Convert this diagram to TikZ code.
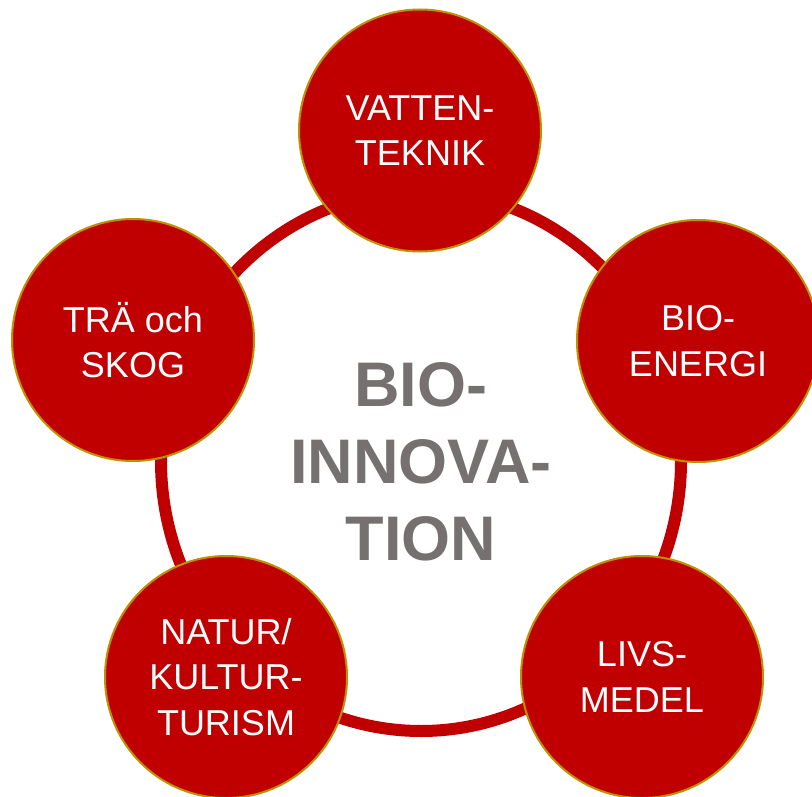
\documentclass[tikz,border=0pt]{standalone}
\usepackage{fontspec}
\setmainfont{Liberation Sans}
\definecolor{ringred}{HTML}{C00000}
\definecolor{goldline}{HTML}{BF9000}
\definecolor{txtgray}{HTML}{767171}
\begin{document}
\begin{tikzpicture}[x=1pt,y=-1pt]
\tikzset{
  topic/.style={circle, fill=ringred, draw=goldline, line width=2pt,
    minimum size=242pt, inner sep=0pt, text=white, align=center,
    font=\fontsize{36}{45.5}\selectfont},
  ringline/.style={draw=ringred, line width=12pt},
  centertext/.style={text=txtgray, align=center,
    font=\bfseries\fontsize{63}{77}\selectfont}
}
\useasboundingbox (0,0) rectangle (812,797);
\clip (0,0) rectangle (812,797);
\coordinate (c) at (421,461);
\draw[ringline] (c) ellipse [x radius=260pt, y radius=270pt];
\node[topic] (vatten) at (420,130.5) {VATTEN-\\TEKNIK};
\node[topic] (tra) at (133,340) {TRÄ och\\SKOG};
\node[topic] (bioenergi) at (698,341) {BIO-\\ENERGI};
\node[topic] (natur) at (226,677) {NATUR/\\KULTUR-\\TURISM};
\node[topic] (livs) at (642,677) {LIVS-\\MEDEL};
\node[centertext] (bioinnovation) at (421,462) {BIO-\\INNOVA-\\TION};
\end{tikzpicture}
\end{document}
